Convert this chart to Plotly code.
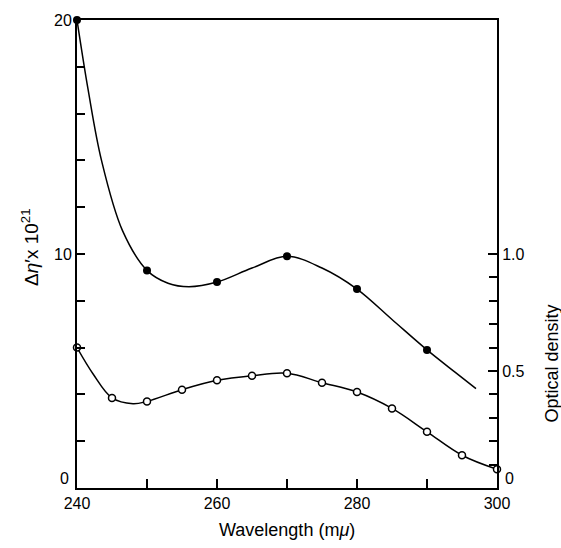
import plotly.graph_objects as go

# Filled circles: birefringence (left axis, Δη' x 10^21)
wl_filled = [240, 250, 260, 270, 280, 290]
biref_filled = [20, 9.3, 8.8, 9.9, 8.5, 5.9]
# Smooth curve
wl_biref_curve = [240, 241.6, 243.5, 246.5, 250, 253, 256, 260, 265, 270, 275, 280, 285, 290, 294, 297]
biref_curve = [20, 17, 14, 11, 9.3, 8.75, 8.6, 8.8, 9.4, 9.9, 9.4, 8.5, 7.2, 5.9, 4.95, 4.25]

# Open circles: optical density (right axis)
wl_open = [240, 245, 250, 255, 260, 265, 270, 275, 280, 285, 290, 295, 300]
od_open = [0.60, 0.385, 0.37, 0.42, 0.46, 0.48, 0.49, 0.45, 0.41, 0.34, 0.24, 0.14, 0.08]
wl_od_curve = [240, 242.3, 245, 248, 250, 255, 260, 265, 270, 275, 280, 285, 290, 295, 300]
od_curve = [0.60, 0.487, 0.385, 0.36, 0.37, 0.42, 0.46, 0.48, 0.49, 0.45, 0.41, 0.34, 0.24, 0.14, 0.08]

x_tickvals = [240, 260, 280, 300]
x_minor = [250, 270, 290]
left_tickvals = [10, 20]
right_tickvals = [0.5, 1.0]
right_ticktext = ["0.5", "1.0"]
right_minor = [0.1, 0.2, 0.3, 0.4, 0.6, 0.7, 0.8, 0.9]

FONT = "Liberation Sans"

fig = go.Figure()
fig.add_trace(go.Scatter(x=wl_biref_curve, y=biref_curve, mode="lines",
                         line=dict(color="black", width=1.5, shape="spline", smoothing=1.0),
                         hoverinfo="skip", showlegend=False))
fig.add_trace(go.Scatter(x=wl_filled, y=biref_filled, mode="markers",
                         marker=dict(color="black", size=8, line=dict(width=0)),
                         cliponaxis=False, showlegend=False))
fig.add_trace(go.Scatter(x=wl_od_curve, y=od_curve, mode="lines", yaxis="y2",
                         line=dict(color="black", width=1.5, shape="spline", smoothing=1.0),
                         hoverinfo="skip", showlegend=False))
fig.add_trace(go.Scatter(x=wl_open, y=od_open, mode="markers", yaxis="y2",
                         marker=dict(color="white", size=7, line=dict(color="black", width=1.5)),
                         cliponaxis=False, showlegend=False))

fig.update_layout(
    width=561, height=548,
    margin=dict(l=77, r=64, t=16, b=60),
    plot_bgcolor="white", paper_bgcolor="white",
    font=dict(family=FONT, size=15, color="black"),
    xaxis=dict(range=[240, 300], tickvals=x_tickvals, ticks="inside", ticklen=9,
               tickwidth=1.5, tickcolor="black", showline=True, linecolor="black",
               linewidth=2, mirror=True, showgrid=False, zeroline=False,
               minor=dict(tickvals=x_minor, ticks="inside", ticklen=9, tickwidth=1.5,
                          tickcolor="black", showgrid=False),
               tickfont=dict(size=16)),
    yaxis=dict(range=[0, 20], tickvals=left_tickvals, ticks="inside", ticklen=8,
               tickwidth=1.5, tickcolor="black", showline=True, linecolor="black",
               linewidth=2, showgrid=False, zeroline=False,
               minor=dict(dtick=2, ticks="inside", ticklen=8, tickwidth=1.5,
                          tickcolor="black", showgrid=False),
               tickfont=dict(size=16)),
    yaxis2=dict(range=[0, 2.0], overlaying="y", side="right",
                tickvals=right_tickvals, ticktext=right_ticktext,
                ticks="inside", ticklen=9, tickwidth=1.5, tickcolor="black",
                showline=True, linecolor="black", linewidth=2, showgrid=False,
                zeroline=False,
                minor=dict(tickvals=right_minor, ticks="inside", ticklen=8,
                           tickwidth=1.5, tickcolor="black", showgrid=False),
                tickfont=dict(size=16)),
    annotations=[
        dict(text="0", x=0, y=0.4, xref="paper", yref="y", xanchor="right",
             yanchor="middle", xshift=-6, showarrow=False, font=dict(size=16)),
        dict(text="0", x=1, y=0.04, xref="paper", yref="y2", xanchor="left",
             yanchor="middle", xshift=6, showarrow=False, font=dict(size=16)),
        dict(text="Wavelength (m<i>μ</i>)", x=0.5, y=-0.089, xref="paper", yref="paper",
             xanchor="center", yanchor="middle", showarrow=False, font=dict(size=18)),
        dict(text="Δ<i>η</i>′x 10<sup>21</sup>", x=-0.112, y=0.515, xref="paper", yref="paper",
             xanchor="center", yanchor="middle", textangle=-90, showarrow=False,
             font=dict(size=19)),
        dict(text="Optical density", x=1.13, y=0.265, xref="paper", yref="paper",
             xanchor="center", yanchor="middle", textangle=-90, showarrow=False,
             font=dict(size=18)),
    ],
)

fig.write_html("out.html", config={"displayModeBar": False},
               post_script="document.body.style.margin='0px';")
